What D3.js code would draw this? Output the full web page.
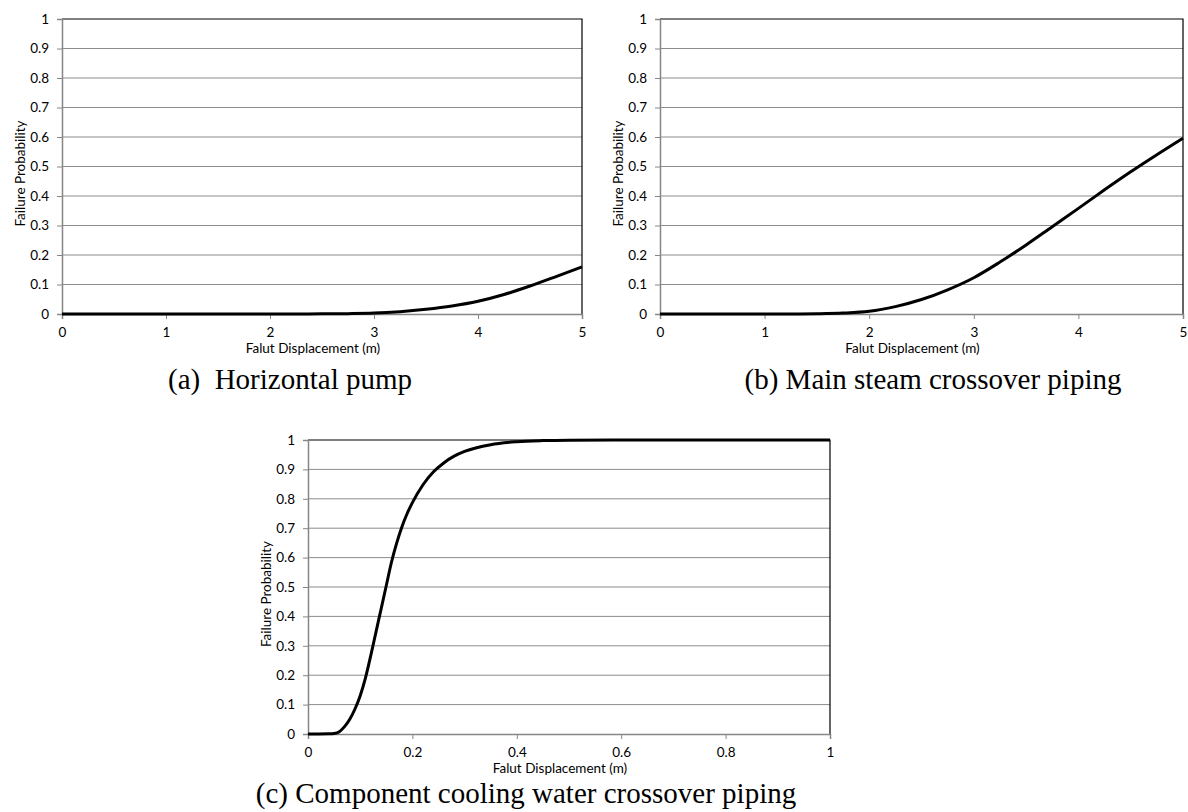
<!DOCTYPE html>
<html>
<head>
<meta charset="utf-8">
<script src="https://cdn.jsdelivr.net/npm/d3@7"></script>
<style>
  body { margin: 0; background: #fff; }
  svg { display: block; }
  .tick text { font-family: Lato, "Open Sans", sans-serif; }
</style>
</head>
<body>
<svg id="chart" width="1188" height="812"></svg>
<script>
// Horizontal pump
const pumpX = [0, 0.5, 1, 1.5, 2, 2.25, 2.5, 2.75, 3, 3.25, 3.5, 3.75, 4, 4.25, 4.5, 4.75, 5];
const pumpP = [0, 0, 0, 0, 0, 0.0002, 0.0005, 0.0012, 0.003, 0.008, 0.016, 0.027, 0.043, 0.066, 0.095, 0.127, 0.16];

// Main steam crossover piping
const steamX = [0, 0.5, 1, 1.25, 1.5, 1.75, 2, 2.25, 2.5, 2.75, 3, 3.25, 3.5, 3.75, 4, 4.25, 4.5, 4.75, 5];
const steamP = [0, 0, 0, 0.0001, 0.0008, 0.003, 0.009, 0.025, 0.049, 0.082, 0.123, 0.176, 0.234, 0.296, 0.358, 0.421, 0.482, 0.54, 0.596];

// Component cooling water crossover piping
const coolX = [0, 0.02, 0.04, 0.05, 0.06, 0.07, 0.08, 0.09, 0.1, 0.11, 0.12, 0.13, 0.14, 0.15, 0.16, 0.17, 0.18, 0.19, 0.2,
               0.22, 0.24, 0.26, 0.28, 0.3, 0.35, 0.4, 0.45, 0.5, 0.6, 0.8, 1];
const coolP = [0, 0, 0.0005, 0.002, 0.008, 0.025, 0.05, 0.085, 0.13, 0.19, 0.265, 0.345, 0.425, 0.505, 0.585, 0.65, 0.705, 0.75, 0.787,
               0.847, 0.891, 0.922, 0.945, 0.961, 0.984, 0.994, 0.998, 0.9995, 1, 1, 1];

const xTicksM = [0, 1, 2, 3, 4, 5];
const xTicksC = [0, 0.2, 0.4, 0.6, 0.8, 1];
const yTicks = [0, 0.1, 0.2, 0.3, 0.4, 0.5, 0.6, 0.7, 0.8, 0.9, 1];

const xTitle = "Falut Displacement (m)";
const yTitle = "Failure Probability";
const captions = ["(a)  Horizontal pump", "(b) Main steam crossover piping", "(c) Component cooling water crossover piping"];

const svg = d3.select("#chart");
const labelFont = 'Lato, "Open Sans", sans-serif';
const fs = 13.5;

function drawPanel(xs, ys, xDomain, xTicks, box, caption) {
    const x = d3.scaleLinear().domain(xDomain).range([box.left, box.right]);
    const y = d3.scaleLinear().domain([0, 1]).range([box.bottom, box.top]);
    const g = svg.append("g");

    // gridlines
    g.append("g")
        .selectAll("line")
        .data(yTicks.slice(1, -1))
        .join("line")
        .attr("x1", box.left).attr("x2", box.right)
        .attr("y1", d => y(d)).attr("y2", d => y(d))
        .attr("stroke", "#8c8c8c").attr("stroke-width", 1);

    // top + right border
    g.append("path")
        .attr("d", `M${box.left},${y(1)}H${box.right}V${box.bottom}`)
        .attr("fill", "none").attr("stroke", "#000").attr("stroke-width", 1.2);

    // y axis
    const yAxis = g.append("g")
        .attr("transform", `translate(${box.left},0)`)
        .call(d3.axisLeft(y).tickValues(yTicks).tickSize(5).tickPadding(8).tickFormat(d => String(d)));
    yAxis.select(".domain").attr("stroke", "#868686").attr("stroke-width", 1.5);
    yAxis.selectAll(".tick line").attr("stroke", "#868686");
    yAxis.selectAll(".tick text").attr("font-size", fs).attr("fill", "#000");

    // x axis
    const xAxis = g.append("g")
        .attr("transform", `translate(0,${box.bottom})`)
        .call(d3.axisBottom(x).tickValues(xTicks).tickSize(5).tickPadding(8).tickFormat(d => String(d)));
    xAxis.select(".domain").attr("stroke", "#868686").attr("stroke-width", 1.5);
    xAxis.selectAll(".tick line").attr("stroke", "#868686");
    xAxis.selectAll(".tick text").attr("font-size", fs).attr("fill", "#000");

    // curve
    const line = d3.line()
        .x((d, i) => x(xs[i]))
        .y(d => y(d))
        .curve(d3.curveMonotoneX);
    g.append("path")
        .datum(ys)
        .attr("d", line)
        .attr("fill", "none")
        .attr("stroke", "#000")
        .attr("stroke-width", 3)
        .attr("stroke-linejoin", "round");

    // axis titles
    g.append("text")
        .attr("x", (box.left + box.right) / 2 - 9)
        .attr("y", box.bottom + 39)
        .attr("text-anchor", "middle")
        .attr("font-family", labelFont)
        .attr("font-size", fs)
        .text(xTitle);

    g.append("text")
        .attr("transform", `translate(${box.left - 42},${(box.top + box.bottom) / 2 + 7}) rotate(-90)`)
        .attr("text-anchor", "middle")
        .attr("dy", "0.35em")
        .attr("font-family", labelFont)
        .attr("font-size", fs)
        .text(yTitle);

    // caption
    svg.append("text")
        .attr("x", caption.x)
        .attr("y", caption.y)
        .attr("text-anchor", "middle")
        .attr("font-family", '"Liberation Serif", "Times New Roman", serif')
        .attr("font-size", 29)
        .style("white-space", "pre")
        .text(caption.text);
}

drawPanel(pumpX, pumpP, [0, 5], xTicksM, { left: 62, right: 582, top: 19, bottom: 314 }, { x: 290, y: 389, text: captions[0] });
drawPanel(steamX, steamP, [0, 5], xTicksM, { left: 660, right: 1183, top: 19, bottom: 314 }, { x: 933, y: 389, text: captions[1] });
drawPanel(coolX, coolP, [0, 1], xTicksC, { left: 308, right: 830, top: 440, bottom: 734 }, { x: 526, y: 803, text: captions[2] });
</script>
</body>
</html>
